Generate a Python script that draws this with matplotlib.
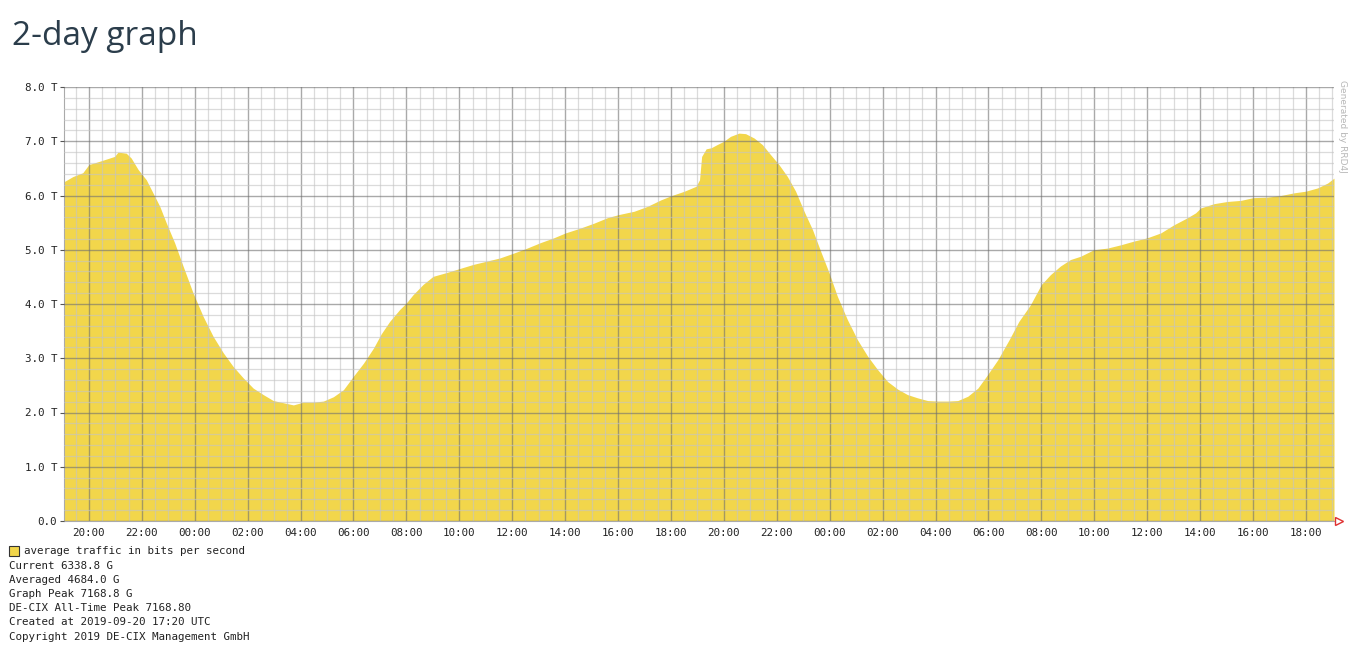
import numpy as np
import matplotlib.pyplot as plt
from matplotlib.patches import Rectangle

# Traffic (hours after the first 20:00, Tbit/s)
hours = [-0.92, -0.6, -0.23, 0.0, 0.4, 0.78, 0.97, 1.1, 1.41, 1.6, 1.86, 2.17, 2.42,
         2.68, 2.93, 3.24, 3.56, 3.94, 4.32, 4.7, 5.08, 5.45, 5.83, 6.21, 6.59,
         6.97, 7.35, 7.73, 8.1, 8.48, 8.86, 9.24, 9.62, 10.0, 10.38, 10.76, 11.05,
         11.37, 11.75, 12.0, 12.25, 12.63, 13.01, 13.52, 13.99, 14.53, 15.04,
         15.54, 16.01, 16.56, 17.06, 17.57, 18.01, 18.58, 19.09, 19.59, 20.04,
         20.61, 21.11, 21.62, 22.03, 22.51, 22.95, 23.08, 23.16, 23.33, 23.52,
         23.75, 24.0, 24.25, 24.57, 24.82, 25.14, 25.45, 25.77, 26.08, 26.4,
         26.71, 27.03, 27.35, 27.66, 27.98, 28.29, 28.67, 29.05, 29.43, 29.81,
         30.19, 30.57, 30.94, 31.32, 31.7, 32.08, 32.46, 32.84, 33.22, 33.6,
         33.97, 34.35, 34.78, 35.15, 35.58, 36.0, 36.34, 36.72, 37.1, 37.48,
         37.98, 38.49, 38.99, 39.5, 40.0, 40.51, 41.01, 41.52, 41.83, 42.02,
         42.53, 43.03, 43.54, 44.0, 44.55, 45.05, 45.56, 46.0, 46.44, 46.82, 47.06]
traffic = [6.26, 6.35, 6.42, 6.57, 6.63, 6.69, 6.72, 6.8, 6.78, 6.69, 6.48, 6.29, 6.05,
           5.8, 5.49, 5.13, 4.7, 4.2, 3.77, 3.4, 3.1, 2.85, 2.64, 2.45, 2.33,
           2.22, 2.18, 2.14, 2.19, 2.19, 2.21, 2.29, 2.42, 2.67, 2.91, 3.19, 3.45,
           3.68, 3.9, 4.02, 4.17, 4.36, 4.51, 4.58, 4.65, 4.73, 4.79,
           4.85, 4.93, 5.03, 5.13, 5.22, 5.31, 5.4, 5.49, 5.59, 5.65,
           5.71, 5.8, 5.92, 6.0, 6.08, 6.17, 6.29, 6.72, 6.86, 6.88,
           6.94, 7.0, 7.09, 7.15, 7.14, 7.06, 6.94, 6.75, 6.57, 6.35,
           6.08, 5.71, 5.37, 4.97, 4.57, 4.14, 3.71, 3.34, 3.04, 2.79,
           2.57, 2.43, 2.33, 2.27, 2.22, 2.21, 2.21, 2.22, 2.3, 2.45,
           2.7, 2.97, 3.34, 3.68, 3.98, 4.36, 4.54, 4.7, 4.82, 4.88,
           5.0, 5.03, 5.09, 5.16, 5.22, 5.31, 5.46, 5.59, 5.68, 5.77,
           5.85, 5.89, 5.91, 5.96, 5.97, 6.0, 6.05, 6.08, 6.14, 6.23, 6.32]

tick_labels = ['20:00', '22:00', '00:00', '02:00', '04:00', '06:00', '08:00', '10:00',
               '12:00', '14:00', '16:00', '18:00', '20:00', '22:00', '00:00', '02:00',
               '04:00', '06:00', '08:00', '10:00', '12:00', '14:00', '16:00', '18:00']
y_labels = ['0.0', '1.0 T', '2.0 T', '3.0 T', '4.0 T', '5.0 T', '6.0 T', '7.0 T', '8.0 T']

legend_lines = ['Current 6338.8 G', 'Averaged 4684.0 G', 'Graph Peak 7168.8 G',
                'DE-CIX All-Time Peak 7168.80', 'Created at 2019-09-20 17:20 UTC',
                'Copyright 2019 DE-CIX Management GmbH']

fill_col = '#f2d64b'
mono = 'DejaVu Sans Mono'

fig = plt.figure(figsize=(13.6, 6.5), dpi=100)
ax = fig.add_axes([64 / 1360, 129 / 650, 1270 / 1360, 434 / 650])

ax.fill_between(hours, 0, traffic, color=fill_col, linewidth=0, zorder=1)

ax.set_xlim(-0.94, 47.06)
ax.set_ylim(0, 8)
ax.set_xticks(np.arange(0, 47, 2))
ax.set_xticklabels(tick_labels)
ax.set_xticks(np.arange(-0.5, 47.06, 0.5), minor=True)
ax.set_yticks(np.arange(0, 9, 1))
ax.set_yticklabels(y_labels)
ax.set_yticks(np.arange(0, 8.01, 0.2), minor=True)

# grid goes over the area like in rrd graphs
ax.grid(which='minor', color='#c4c4c4', alpha=0.6, linewidth=0.9, zorder=2)
ax.grid(which='major', color='#707070', alpha=0.6, linewidth=1.0, zorder=3)
ax.set_axisbelow(False)

for s in ['top', 'right']:
    ax.spines[s].set_visible(False)
ax.spines['left'].set_color('#aaaaaa')
ax.spines['bottom'].set_color('#aaaaaa')
ax.tick_params(which='minor', length=0)
ax.tick_params(axis='x', which='major', length=0, pad=5)
ax.tick_params(axis='y', which='major', length=3, color='#555555', pad=2)
for lab in ax.get_xticklabels() + ax.get_yticklabels():
    lab.set_fontfamily(mono)
    lab.set_fontsize(7.8)
    lab.set_color('#222222')

# red arrow at the end of the time axis
ax.plot([47.25], [0], marker='>', markersize=6, markerfacecolor='white',
        markeredgecolor='#e03030', clip_on=False, zorder=5)

fig.text(1342 / 1360, 1 - 80 / 650, 'Generated by RRD4J', rotation=-90, ha='center',
         va='top', fontsize=6.5, color='#b8b8b8')

fig.text(12 / 1360, 1 - 45 / 650, '2-day graph', fontsize=24, color='#2b3d4b',
         family='Open Sans', va='baseline')

# legend block
fig.patches.append(Rectangle((9 / 1360, 1 - 556 / 650), 10 / 1360, 10 / 650,
                             transform=fig.transFigure, facecolor=fill_col,
                             edgecolor='#333333', linewidth=0.8))
fig.text(24 / 1360, 1 - 551 / 650, 'average traffic in bits per second',
         family=mono, fontsize=7.8, color='#222222', va='center')
for i, line in enumerate(legend_lines):
    fig.text(9 / 1360, 1 - (566 + 14.1 * i) / 650, line, family=mono, fontsize=7.8,
             color='#222222', va='center')

fig.savefig('out.png', dpi=100, facecolor='white')
